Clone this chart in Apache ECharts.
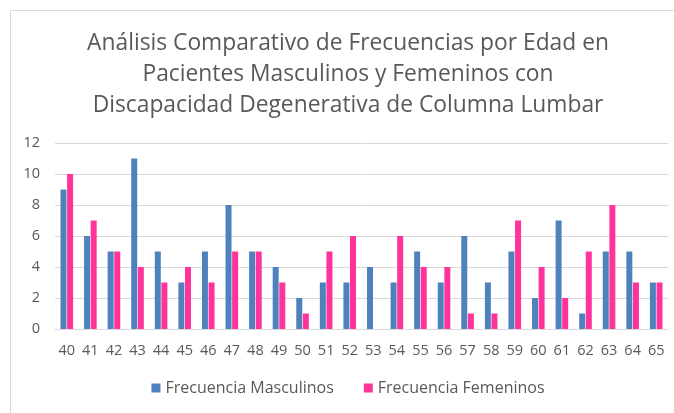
<!DOCTYPE html>
<html>
<head>
<meta charset="utf-8">
<script src="https://cdn.jsdelivr.net/npm/echarts@6/dist/echarts.min.js"></script>
<style>
  html, body { margin: 0; padding: 0; background: #fff; overflow: hidden; }
  #frame { position: absolute; left: 10px; top: 10px; width: 680px; height: 420px; border: 1px solid #d9d9d9; box-sizing: border-box; }
  #chart { position: absolute; left: 0; top: 0; width: 696px; height: 413px; }
</style>
</head>
<body>
<div id="frame"></div>
<div id="chart"></div>
<script>
const ages = ['40','41','42','43','44','45','46','47','48','49','50','51','52','53','54','55','56','57','58','59','60','61','62','63','64','65'];
const masculinos = [9, 6, 5, 11, 5, 3, 5, 8, 5, 4, 2, 3, 3, 4, 3, 5, 3, 6, 3, 5, 2, 7, 1, 5, 5, 3];
const femeninos = [10, 7, 5, 4, 3, 4, 3, 5, 5, 3, 1, 5, 6, 0, 6, 4, 4, 1, 1, 7, 4, 2, 5, 8, 3, 3];
const titleText = 'Análisis Comparativo de Frecuencias por Edad en\nPacientes Masculinos y Femeninos con\nDiscapacidad Degenerativa de Columna Lumbar';

const font = '"Open Sans", sans-serif';
// the chart box is wider than the window so that centred text sits where the original does
const chart = echarts.init(document.getElementById('chart'));

const option = {
  animation: false,
  title: {
    text: titleText,
    left: 'center',
    top: 23,
    textStyle: { fontFamily: font, fontSize: 22.8, fontWeight: 'normal', color: '#595959', lineHeight: 31 }
  },
  legend: {
    bottom: 12,
    left: 'center',
    itemWidth: 9,
    itemHeight: 9,
    itemGap: 30,
    icon: 'rect',
    textStyle: { fontFamily: font, fontSize: 16, color: '#595959' }
  },
  grid: { left: 55, right: 28, top: 143, bottom: 84 },
  xAxis: {
    type: 'category',
    data: ages,
    axisLine: { lineStyle: { color: '#d9d9d9' } },
    axisTick: { show: false },
    axisLabel: { fontFamily: font, fontSize: 14.5, color: '#595959', margin: 14, interval: 0 }
  },
  yAxis: {
    type: 'value',
    min: 0,
    max: 12,
    interval: 2,
    axisLine: { show: false },
    axisTick: { show: false },
    axisLabel: { fontFamily: font, fontSize: 14.5, color: '#595959', margin: 15 },
    splitLine: { lineStyle: { color: '#d9d9d9' } }
  },
  series: [
    {
      name: 'Frecuencia Masculinos',
      type: 'bar',
      data: masculinos,
      barWidth: 6,
      barGap: '10%',
      itemStyle: { color: '#4f81bd' }
    },
    {
      name: 'Frecuencia Femeninos',
      type: 'bar',
      data: femeninos,
      barWidth: 6,
      barGap: '10%',
      itemStyle: { color: '#ff3399' }
    }
  ]
};

chart.setOption(option);
</script>
</body>
</html>
